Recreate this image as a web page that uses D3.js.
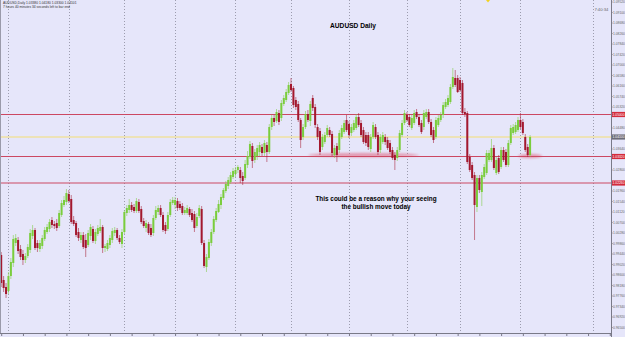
<!DOCTYPE html>
<html>
<head>
<meta charset="utf-8">
<script src="https://cdn.jsdelivr.net/npm/d3@7"></script>
<style>
  body { margin: 0; background: #e6e6fa; }
  svg { display: block; font-family: "Liberation Sans", Arial, sans-serif; }
</style>
</head>
<body>
<div id="chart"></div>
<script>
// AUDUSD daily bars
var opens = [0.9938,0.9838,0.9810,0.9794,0.9854,0.9906,0.9986,0.9998,0.9962,0.9942,0.9918,
  0.9934,0.9958,1.0014,1.0038,0.9986,0.9962,0.9974,1.0002,1.0030,1.0042,
  1.0078,1.0062,1.0066,1.0054,1.0098,1.0138,1.0150,1.0182,1.0162,1.0078,1.0066,
  1.0030,0.9998,1.0018,0.9998,0.9978,1.0014,1.0042,0.9994,1.0022,1.0034,
  1.0050,0.9966,0.9962,0.9978,0.9998,1.0026,1.0038,1.0006,0.9982,1.0030,1.0106,
  1.0118,1.0138,1.0130,1.0114,1.0150,1.0122,1.0074,1.0046,1.0062,1.0046,
  1.0026,1.0086,1.0110,1.0126,1.0098,1.0058,1.0042,1.0098,1.0146,1.0138,
  1.0154,1.0142,1.0134,1.0106,1.0106,1.0122,1.0106,1.0102,1.0054,1.0094,1.0122,
  0.9986,0.9890,0.9926,0.9986,1.0030,1.0078,1.0110,1.0138,1.0166,1.0194,
  1.0214,1.0230,1.0250,1.0262,1.0278,1.0278,1.0254,1.0246,1.0298,1.0330,1.0374,
  1.0318,1.0334,1.0350,1.0370,1.0346,1.0378,1.0350,1.0450,1.0486,1.0474,
  1.0506,1.0486,1.0542,1.0558,1.0586,1.0622,1.0606,1.0558,1.0542,1.0478,
  1.0410,1.0450,1.0502,1.0474,1.0566,1.0530,1.0450,1.0434,1.0370,1.0390,
  1.0418,1.0438,1.0422,1.0338,1.0374,1.0358,1.0410,1.0430,1.0478,
  1.0462,1.0426,1.0438,1.0446,1.0490,1.0466,1.0438,1.0418,1.0418,
  1.0362,1.0410,1.0450,1.0418,1.0358,1.0390,1.0410,1.0398,1.0386,
  1.0358,1.0338,1.0326,1.0358,1.0418,1.0466,1.0498,1.0490,1.0446,1.0466,
  1.0510,1.0490,1.0466,1.0450,1.0490,1.0510,1.0470,1.0438,1.0410,1.0458,
  1.0478,1.0498,1.0530,1.0538,1.0550,1.0610,1.0646,1.0646,1.0638,
  1.0626,1.0510,1.0506,1.0330,1.0298,1.0258,1.0130,1.0246,1.0190,1.0250,
  1.0266,1.0318,1.0318,1.0366,1.0266,1.0326,1.0290,1.0358,1.0350,
  1.0298,1.0386,1.0426,1.0430,1.0438,1.0478,1.0470,1.0410,1.0370,1.0338];
var highs = [0.9950,0.9854,0.9826,0.9870,0.9926,1.0018,1.0022,1.0010,0.9978,0.9958,0.9946,
  0.9982,1.0042,1.0058,1.0046,0.9998,0.9998,1.0018,1.0050,1.0062,1.0082,
  1.0090,1.0074,1.0082,1.0118,1.0158,1.0174,1.0202,1.0198,1.0178,1.0094,1.0074,
  1.0046,1.0030,1.0030,1.0022,1.0038,1.0062,1.0054,1.0042,1.0058,1.0082,
  1.0058,0.9982,0.9998,1.0018,1.0046,1.0050,1.0046,1.0018,1.0042,1.0118,1.0138,
  1.0162,1.0150,1.0142,1.0166,1.0162,1.0134,1.0086,1.0078,1.0070,1.0062,
  1.0098,1.0134,1.0138,1.0138,1.0110,1.0070,1.0110,1.0162,1.0170,1.0170,
  1.0166,1.0154,1.0146,1.0130,1.0138,1.0130,1.0122,1.0114,1.0106,1.0138,1.0134,
  0.9998,0.9942,1.0002,1.0042,1.0094,1.0126,1.0158,1.0182,1.0206,1.0234,
  1.0250,1.0270,1.0286,1.0290,1.0298,1.0290,1.0270,1.0318,1.0354,1.0394,1.0386,
  1.0362,1.0378,1.0390,1.0382,1.0398,1.0390,1.0462,1.0498,1.0498,1.0522,
  1.0518,1.0558,1.0578,1.0602,1.0630,1.0646,1.0614,1.0570,1.0554,1.0486,
  1.0462,1.0514,1.0518,1.0554,1.0578,1.0542,1.0462,1.0446,1.0422,1.0430,
  1.0458,1.0450,1.0434,1.0378,1.0386,1.0438,1.0458,1.0478,1.0498,
  1.0474,1.0462,1.0478,1.0502,1.0506,1.0478,1.0450,1.0430,1.0430,
  1.0422,1.0470,1.0462,1.0430,1.0422,1.0430,1.0422,1.0410,1.0398,
  1.0370,1.0350,1.0370,1.0438,1.0478,1.0518,1.0510,1.0502,1.0498,1.0518,
  1.0522,1.0502,1.0478,1.0518,1.0522,1.0522,1.0482,1.0450,1.0490,1.0498,
  1.0510,1.0550,1.0562,1.0578,1.0622,1.0686,1.0678,1.0658,1.0650,
  1.0638,1.0526,1.0514,1.0342,1.0310,1.0270,1.0258,1.0258,1.0270,1.0302,
  1.0358,1.0358,1.0402,1.0378,1.0330,1.0338,1.0370,1.0370,1.0362,
  1.0398,1.0458,1.0462,1.0470,1.0490,1.0506,1.0482,1.0422,1.0382,1.0418];
var lows = [0.9810,0.9790,0.9766,0.9782,0.9842,0.9890,0.9974,0.9942,0.9918,0.9898,0.9906,
  0.9926,0.9946,1.0002,0.9958,0.9950,0.9950,0.9962,0.9994,1.0022,1.0030,
  1.0046,1.0042,1.0034,1.0046,1.0090,1.0130,1.0138,1.0146,1.0062,1.0054,1.0010,
  0.9994,0.9986,0.9962,0.9930,0.9970,0.9998,0.9986,0.9982,1.0014,1.0026,
  0.9946,0.9950,0.9954,0.9966,0.9986,1.0014,0.9998,0.9982,0.9966,1.0022,1.0094,
  1.0106,1.0110,1.0106,1.0106,1.0106,1.0062,1.0046,1.0030,1.0018,1.0010,
  1.0014,1.0078,1.0098,1.0090,1.0030,1.0022,1.0034,1.0090,1.0138,1.0122,
  1.0114,1.0118,1.0098,1.0098,1.0098,1.0090,1.0070,1.0030,1.0046,1.0086,0.9978,
  0.9886,0.9870,0.9918,0.9974,1.0022,1.0070,1.0106,1.0122,1.0158,1.0186,
  1.0202,1.0222,1.0242,1.0250,1.0266,1.0226,1.0218,1.0238,1.0286,1.0322,1.0286,
  1.0306,1.0318,1.0334,1.0334,1.0334,1.0310,1.0342,1.0438,1.0454,1.0466,
  1.0458,1.0474,1.0534,1.0550,1.0578,1.0590,1.0526,1.0518,1.0470,1.0366,
  1.0398,1.0442,1.0470,1.0454,1.0514,1.0446,1.0398,1.0338,1.0358,1.0382,
  1.0410,1.0410,1.0334,1.0326,1.0310,1.0346,1.0402,1.0422,1.0430,
  1.0406,1.0414,1.0430,1.0438,1.0450,1.0410,1.0382,1.0374,1.0358,
  1.0350,1.0402,1.0402,1.0338,1.0346,1.0382,1.0378,1.0358,1.0342,
  1.0318,1.0278,1.0314,1.0350,1.0410,1.0458,1.0470,1.0450,1.0438,1.0458,
  1.0482,1.0450,1.0422,1.0438,1.0482,1.0462,1.0410,1.0386,1.0402,1.0450,
  1.0470,1.0486,1.0522,1.0530,1.0542,1.0602,1.0610,1.0586,1.0590,
  1.0498,1.0490,1.0302,1.0270,1.0238,0.9998,1.0110,1.0186,1.0134,1.0242,
  1.0258,1.0310,1.0310,1.0278,1.0258,1.0262,1.0282,1.0310,1.0290,
  1.0290,1.0378,1.0418,1.0422,1.0430,1.0442,1.0418,1.0350,1.0330,1.0330];
var closes = [0.9826,0.9806,0.9782,0.9854,0.9910,1.0002,1.0006,0.9954,0.9930,0.9918,0.9934,
  0.9970,1.0026,1.0038,0.9966,0.9966,0.9986,1.0006,1.0038,1.0050,1.0070,
  1.0058,1.0054,1.0046,1.0106,1.0146,1.0158,1.0186,1.0154,1.0070,1.0062,1.0018,
  1.0006,1.0018,0.9970,0.9966,1.0026,1.0050,0.9994,1.0030,1.0046,1.0050,
  0.9966,0.9974,0.9986,1.0006,1.0034,1.0038,1.0006,0.9990,1.0030,1.0110,1.0126,
  1.0138,1.0118,1.0114,1.0154,1.0114,1.0070,1.0054,1.0066,1.0026,1.0018,
  1.0086,1.0118,1.0126,1.0098,1.0038,1.0034,1.0098,1.0150,1.0158,1.0158,
  1.0126,1.0126,1.0106,1.0118,1.0126,1.0098,1.0078,1.0046,1.0090,1.0126,0.9986,
  0.9894,0.9930,0.9990,1.0030,1.0082,1.0114,1.0142,1.0170,1.0198,1.0222,
  1.0238,1.0258,1.0274,1.0278,1.0290,1.0246,1.0234,1.0302,1.0334,1.0382,1.0314,
  1.0350,1.0366,1.0378,1.0346,1.0386,1.0350,1.0450,1.0486,1.0470,1.0510,
  1.0470,1.0546,1.0566,1.0590,1.0618,1.0598,1.0538,1.0530,1.0478,1.0398,
  1.0450,1.0502,1.0478,1.0542,1.0526,1.0458,1.0410,1.0350,1.0410,1.0418,
  1.0446,1.0418,1.0346,1.0366,1.0338,1.0426,1.0446,1.0466,1.0438,
  1.0418,1.0450,1.0466,1.0490,1.0458,1.0418,1.0390,1.0386,1.0370,
  1.0410,1.0458,1.0410,1.0350,1.0410,1.0418,1.0390,1.0366,1.0350,
  1.0326,1.0318,1.0358,1.0426,1.0466,1.0506,1.0478,1.0458,1.0486,1.0506,
  1.0490,1.0458,1.0430,1.0506,1.0510,1.0470,1.0418,1.0398,1.0478,1.0486,
  1.0498,1.0538,1.0550,1.0566,1.0610,1.0650,1.0618,1.0590,1.0598,
  1.0506,1.0502,1.0310,1.0278,1.0246,1.0138,1.0246,1.0198,1.0258,1.0290,
  1.0346,1.0346,1.0366,1.0286,1.0318,1.0270,1.0358,1.0318,1.0298,
  1.0386,1.0446,1.0450,1.0458,1.0478,1.0450,1.0426,1.0358,1.0338,1.0410];

// bar index where each month starts (vertical grid), last one is in the empty shift area
var monthStarts = [3, 28, 51, 72, 97, 120, 144, 168, 190, 215, 245];
var priceTicks = [1.0952,1.0910,1.0868,1.0826,1.0784,1.0742,1.0700,1.0658,1.0616,1.0574,
  1.0532,1.0490,1.0448,1.0406,1.0364,1.0322,1.0280,1.0238,1.0196,1.0154,1.0112,1.0070,
  1.0028,0.9986,0.9944,0.9902,0.9860,0.9818,0.9776,0.9734,0.9692,0.9650];
var levels = [1.0500, 1.0332, 1.0226];
var bid = 1.0410;
// highlighted support zones: first bar, last bar, price
var zones = [[127, 173, 1.0338], [214, 224, 1.0334]];
var titleText = 'AUDUSD Daily';
var noteLines = ['This could be a reason why your seeing', 'the bullish move today'];
var headerLines = ['AUDUSD,Daily  1.03380 1.04180 1.03300 1.04101',
  '7 hours 40 minutes 34 seconds left to bar end'];
var timer = '7:40:34';

var W = 625, H = 337, axisX = 611, axisY = 333, shift = 33;
var n = closes.length;
var bars = d3.range(n).map(function (i) {
  return { i: i, o: opens[i], h: highs[i], l: lows[i], c: closes[i] };
});

var svg = d3.select('#chart').append('svg')
  .attr('width', W).attr('height', H);

svg.append('rect').attr('width', W).attr('height', H).attr('fill', '#e6e6fa');

var x = d3.scaleLinear().domain([-0.5, n - 0.5 + shift]).range([0, axisX]);
var y = d3.scaleLinear().domain([0.9626, 1.0958]).range([axisY, 0]);

var defs = svg.append('defs');
defs.append('clipPath').attr('id', 'plot')
  .append('rect').attr('width', axisX).attr('height', axisY);
defs.append('filter').attr('id', 'soft')
  .attr('x', '-10%').attr('y', '-200%').attr('width', '120%').attr('height', '500%')
  .append('feGaussianBlur').attr('stdDeviation', 1.2);

var plot = svg.append('g').attr('clip-path', 'url(#plot)');

// month grid
plot.selectAll('line.grid').data(monthStarts).enter().append('line')
  .attr('class', 'grid')
  .attr('x1', function (d) { return Math.round(x(d)) + 0.5; })
  .attr('x2', function (d) { return Math.round(x(d)) + 0.5; })
  .attr('y1', 0).attr('y2', axisY)
  .attr('stroke', '#9c9cae').attr('stroke-width', 1)
  .attr('stroke-dasharray', '1,2');

// support zones
plot.selectAll('ellipse.zone').data(zones).enter().append('ellipse')
  .attr('class', 'zone')
  .attr('cx', function (d) { return (x(d[0]) + x(d[1])) / 2; })
  .attr('cy', function (d) { return y(d[2]); })
  .attr('rx', function (d) { return (x(d[1]) - x(d[0])) / 2; })
  .attr('ry', 2.2)
  .attr('fill', '#e0607a').attr('opacity', 0.55)
  .attr('filter', 'url(#soft)');

// bid line
plot.append('line')
  .attr('x1', 0).attr('x2', axisX)
  .attr('y1', y(bid)).attr('y2', y(bid))
  .attr('stroke', '#efe0a0').attr('stroke-width', 1.5);

// horizontal levels
plot.selectAll('line.level').data(levels).enter().append('line')
  .attr('class', 'level')
  .attr('x1', 0).attr('x2', axisX)
  .attr('y1', function (d) { return y(d); })
  .attr('y2', function (d) { return y(d); })
  .attr('stroke', '#cc4862').attr('stroke-width', 1);

// candles
var bw = 2;
var up = '#7acd3c', down = '#a3182e';
var candle = plot.selectAll('g.bar').data(bars).enter().append('g').attr('class', 'bar');
candle.append('line')
  .attr('x1', function (d) { return x(d.i); })
  .attr('x2', function (d) { return x(d.i); })
  .attr('y1', function (d) { return y(d.h); })
  .attr('y2', function (d) { return y(d.l); })
  .attr('stroke', function (d) { return d.c >= d.o ? up : down; })
  .attr('stroke-opacity', 0.6)
  .attr('stroke-width', 0.9);
candle.append('rect')
  .attr('x', function (d) { return x(d.i) - bw / 2; })
  .attr('width', bw)
  .attr('y', function (d) { return y(Math.max(d.o, d.c)); })
  .attr('height', function (d) { return Math.max(0.8, Math.abs(y(d.o) - y(d.c))); })
  .attr('fill', function (d) { return d.c >= d.o ? up : down; });

// texts on chart
svg.append('text').attr('x', 353).attr('y', 28)
  .attr('text-anchor', 'middle').attr('font-size', 6.6).attr('font-weight', 'bold')
  .attr('fill', '#000').text(titleText);
svg.selectAll('text.note').data(noteLines).enter().append('text')
  .attr('class', 'note')
  .attr('x', 376).attr('y', function (d, i) { return 201 + i * 7.5; })
  .attr('text-anchor', 'middle').attr('font-size', 6.4).attr('font-weight', 'bold')
  .attr('fill', '#000').text(function (d) { return d; });
svg.selectAll('text.header').data(headerLines).enter().append('text')
  .attr('class', 'header')
  .attr('x', 3).attr('y', function (d, i) { return 4.3 + i * 3.4; })
  .attr('font-size', 3.3).attr('fill', '#333').text(function (d) { return d; });
svg.append('text').attr('x', x(monthStarts[monthStarts.length - 1]) + 1.5).attr('y', 11)
  .attr('font-size', 4.2).attr('fill', '#666').text(timer);
svg.append('path').attr('d', 'M486,0 L490,0 L488,2.5 Z').attr('fill', '#f2d21c');

// frame
svg.append('line').attr('x1', 0.5).attr('x2', 0.5).attr('y1', 0).attr('y2', axisY)
  .attr('stroke', '#9a9aaa');
svg.append('line').attr('x1', axisX + 0.5).attr('x2', axisX + 0.5).attr('y1', 0).attr('y2', H)
  .attr('stroke', '#7a7a88');
svg.append('line').attr('x1', 0).attr('x2', axisX).attr('y1', axisY + 0.5).attr('y2', axisY + 0.5)
  .attr('stroke', '#7a7a88');

// time axis ticks (labels are cut off below the window)
var tAxis = d3.axisBottom(x).tickValues(d3.range(0, n + shift, 9)).tickSize(3).tickFormat('');
svg.append('g').attr('transform', 'translate(0,' + axisY + ')').call(tAxis)
  .call(function (g) { g.select('.domain').remove(); })
  .selectAll('line').attr('stroke', '#7a7a88');

// price axis; ticks hidden under the boxed labels are left out
var boxed = levels.concat([bid]);
var shownTicks = priceTicks.filter(function (t) {
  return boxed.every(function (b) { return Math.abs(y(t) - y(b)) > 5; });
});
var pAxis = d3.axisRight(y).tickValues(shownTicks).tickSize(1.5).tickPadding(0.5)
  .tickFormat(d3.format('.5f'));
var pa = svg.append('g').attr('transform', 'translate(' + axisX + ',0)').call(pAxis);
pa.select('.domain').remove();
pa.selectAll('line').attr('stroke', '#7a7a88');
pa.selectAll('text').attr('font-size', 3.3).attr('fill', '#666')
  .attr('font-family', '"Liberation Sans", Arial, sans-serif');

// boxed labels for the levels and the bid
function boxLabel(v, fill) {
  var g = svg.append('g').attr('transform', 'translate(' + (axisX + 1) + ',' + y(v) + ')');
  g.append('rect').attr('x', 0).attr('y', -2.6).attr('width', 13).attr('height', 5.2).attr('fill', fill);
  g.append('text').attr('x', 0.6).attr('y', 1.2).attr('font-size', 3.3)
    .attr('fill', '#fff').text(d3.format('.5f')(v));
}
levels.forEach(function (v) { boxLabel(v, '#d42a3c'); });
boxLabel(bid, '#6c6c78');
</script>
</body>
</html>
